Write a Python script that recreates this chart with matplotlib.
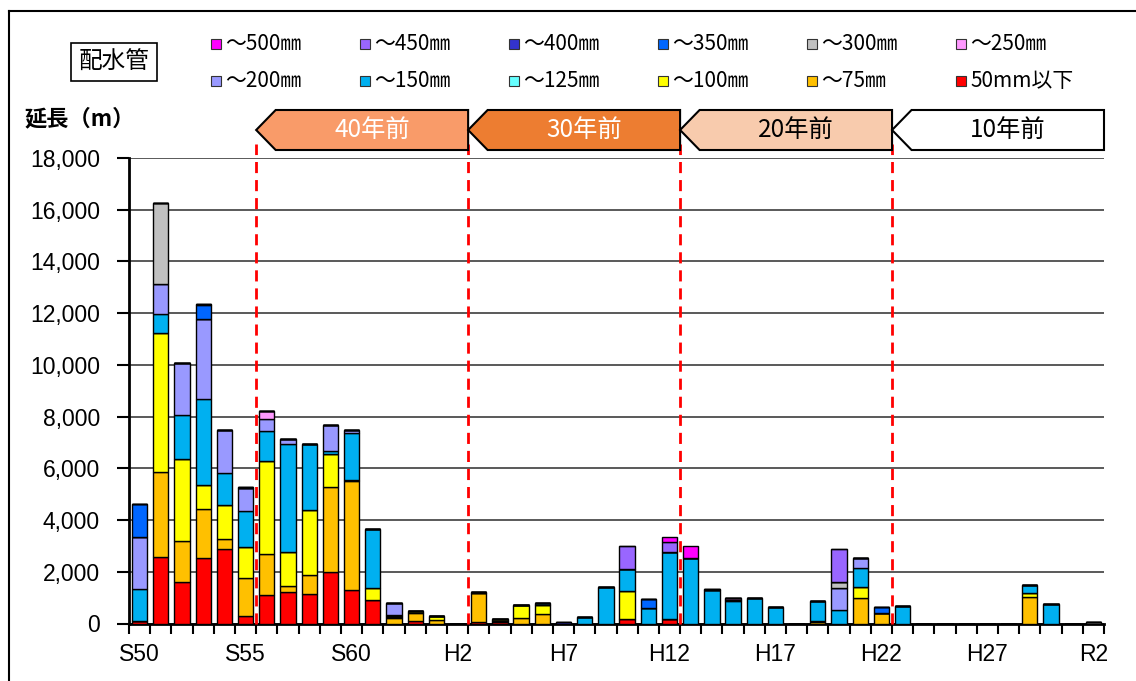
import matplotlib
matplotlib.use("Agg")
import matplotlib.pyplot as plt
import matplotlib.transforms as mtransforms
from matplotlib.patches import Rectangle, Polygon
import numpy as np

# fiscal years S50 (1975) .. R2 (2020)
years = (["S%d" % y for y in range(50, 64)] + ["H%d" % y for y in range(1, 31)]
         + ["R1", "R2"])
tick_years = ["S50", "S55", "S60", "H2", "H7", "H12", "H17", "H22", "H27", "R2"]

# lengths (m) by pipe diameter, one value per year
d50 = [110, 2570, 1600, 2520, 2890, 290, 1115, 1205, 1130, 2000, 1280, 910, 0, 95, 0, 0,
       40, 50, 0, 0, 0, 0, 0, 160, 0, 185, 0, 0, 0, 0, 0, 0, 0, 0, 0, 0, 0, 0, 0, 0, 0, 0, 0, 0, 0, 0]
d75 = [0, 3280, 1575, 1905, 375, 1455, 1570, 245, 755, 3275, 4240, 0, 200, 295, 130, 0,
       1125, 60, 200, 355, 0, 0, 0, 0, 0, 0, 0, 0, 0, 0, 0, 0, 60, 0, 985, 395, 0, 0, 0, 0, 0, 0, 1010, 0, 0, 0]
d100 = [0, 5390, 3205, 915, 1315, 1210, 3605, 1300, 2500, 1265, 30, 475, 60, 105, 150, 0,
        0, 60, 515, 345, 0, 0, 0, 1085, 0, 0, 0, 0, 0, 0, 0, 0, 30, 0, 435, 0, 0, 0, 0, 0, 0, 0, 170, 0, 0, 0]
d125 = [0] * 12 + [30] + [0] * 33
d150 = [1210, 710, 1665, 3360, 1235, 1390, 1135, 4185, 2540, 125, 1810, 2265, 50, 0, 0, 0,
        50, 0, 0, 90, 0, 265, 1410, 875, 585, 2590, 2520, 1280, 880, 975, 625, 0, 770, 535, 710, 0, 665,
        0, 0, 0, 0, 0, 295, 740, 0, 0]
d200 = [2030, 1160, 2010, 3090, 1685, 890, 475, 180, 0, 1005, 140, 0, 440, 0, 0, 0,
        0, 0, 0, 0, 0, 0, 0, 0, 0, 0, 0, 0, 40, 0, 0, 0, 0, 825, 390, 0, 0, 0, 0, 0, 0, 0, 0, 0, 0, 0]
d250 = [0] * 6 + [300] + [0] * 21 + [60] + [0] * 17
d300 = [0, 3140] + [0] * 31 + [255] + [0] * 11 + [40]
d350 = [1270, 0, 0, 530] + [0] * 20 + [375] + [0] * 10 + [230] + [0] * 10
d400 = [0, 0, 0, 50, 0, 45] + [0] * 14 + [70] + [0] * 6 + [50] + [0] * 18
d450 = [0] * 23 + [860, 0, 385] + [0] * 7 + [1250] + [0] * 12
d500 = [0] * 25 + [180, 485] + [0] * 19

series = [d50, d75, d100, d125, d150, d200, d250, d300, d350, d400, d450, d500]
labels = ["50mm以下", "～75㎜", "～100㎜", "～125㎜", "～150㎜", "～200㎜",
          "～250㎜", "～300㎜", "～350㎜", "～400㎜", "～450㎜", "～500㎜"]
colors = ["#FF0000", "#FFC000", "#FFFF00", "#66FFFF", "#00B0F0", "#9999FF",
          "#FF99FF", "#C0C0C0", "#0066FF", "#3333CC", "#9966FF", "#FF00FF"]

periods = ["40年前", "30年前", "20年前", "10年前"]
period_edges = [5.5, 15.5, 25.5, 35.5, 45.5]
period_fill = ["#F99B69", "#ED7D31", "#F8CBAD", "#FFFFFF"]
period_text = ["white", "white", "black", "black"]

CJK = ["Noto Sans CJK JP", "DejaVu Sans"]
W, H = 1136, 681

fig = plt.figure(figsize=(W / 100, H / 100), dpi=100)
ax = fig.add_axes([129 / W, 57.5 / H, 975 / W, 465.5 / H])

x = np.arange(len(years))
bottom = np.zeros(len(years))
for vals, c in zip(series, colors):
    v = np.array(vals, dtype=float)
    ax.bar(x, v, bottom=bottom, width=0.72, color=c, edgecolor="black", linewidth=1, zorder=3)
    bottom += v

ax.set_xlim(-0.5, len(years) - 0.5)
ax.set_ylim(0, 18000)
ax.set_yticks(np.arange(0, 18001, 2000))
ax.set_yticklabels(["{:,}".format(v) for v in range(0, 18001, 2000)],
                   fontsize=16.5, family="Liberation Sans")
ax.yaxis.grid(True, color="#595959", linewidth=1.4, zorder=1)
ax.tick_params(axis="y", direction="out", length=9, width=1.5, pad=12)

ax.set_xticks([years.index(t) for t in tick_years])
ax.set_xticklabels(tick_years, fontsize=16.5, family="Liberation Sans")
ax.set_xticks(np.arange(-0.5, len(years)), minor=True)
ax.tick_params(axis="x", which="major", length=0, pad=14)
ax.tick_params(axis="x", which="minor", direction="out", length=7, width=1.5)

for s in ["top", "right"]:
    ax.spines[s].set_visible(False)
for s in ["left", "bottom"]:
    ax.spines[s].set_linewidth(2)

# period boundaries and arrow banners
trans = mtransforms.blended_transform_factory(ax.transData, ax.transAxes)
for e in period_edges[:-1]:
    ax.plot([e, e], [0, 1.03], color="#FF0000", linestyle=(0, (4, 2.5)), linewidth=2,
            transform=trans, clip_on=False, zorder=4)

y_lo, y_hi = (623.5 - 150) / 465.5, (623.5 - 110) / 465.5
for i, name in enumerate(periods):
    l, r = period_edges[i], period_edges[i + 1]
    notch = 0.92
    pts = [(l, (y_lo + y_hi) / 2), (l + notch, y_hi), (r, y_hi), (r, y_lo), (l + notch, y_lo)]
    ax.add_patch(Polygon(pts, closed=True, facecolor=period_fill[i], edgecolor="black",
                         linewidth=1.5, transform=trans, clip_on=False, zorder=5))
    ax.text((l + notch + r) / 2, (y_lo + y_hi) / 2, name, transform=trans, ha="center",
            va="center", fontsize=17.5, color=period_text[i], family=CJK, zorder=6)

# outer frame
fig.add_artist(plt.Line2D([9 / W, 1], [1 - 11 / H] * 2, color="black", lw=1.5,
                          transform=fig.transFigure))
fig.add_artist(plt.Line2D([9 / W] * 2, [0, 1 - 11 / H], color="black", lw=1.5,
                          transform=fig.transFigure))

# title box and axis label
fig.text(114 / W, 1 - 62 / H, "配水管", fontsize=17, family=CJK, ha="center", va="center",
         bbox=dict(boxstyle="square,pad=0.3", facecolor="white", edgecolor="black", lw=1.2))
fig.text(25 / W, 1 - 119 / H, "延長（m）", fontsize=16, family=CJK, fontweight="bold",
         ha="left", va="center")

# legend: two rows of six, largest size first
order = list(range(11, -1, -1))
for k, idx in enumerate(order):
    row, col = divmod(k, 6)
    mx = 211 + 149 * col
    my = 44 + 37 * row
    fig.add_artist(Rectangle((mx / W, 1 - (my + 5) / H), 10 / W, 10 / H, facecolor=colors[idx],
                             edgecolor="#333333", lw=0.8, transform=fig.transFigure))
    fig.text((mx + 14) / W, 1 - my / H, labels[idx], fontsize=15, family=CJK,
             ha="left", va="center")

fig.savefig("out.png", dpi=100)
